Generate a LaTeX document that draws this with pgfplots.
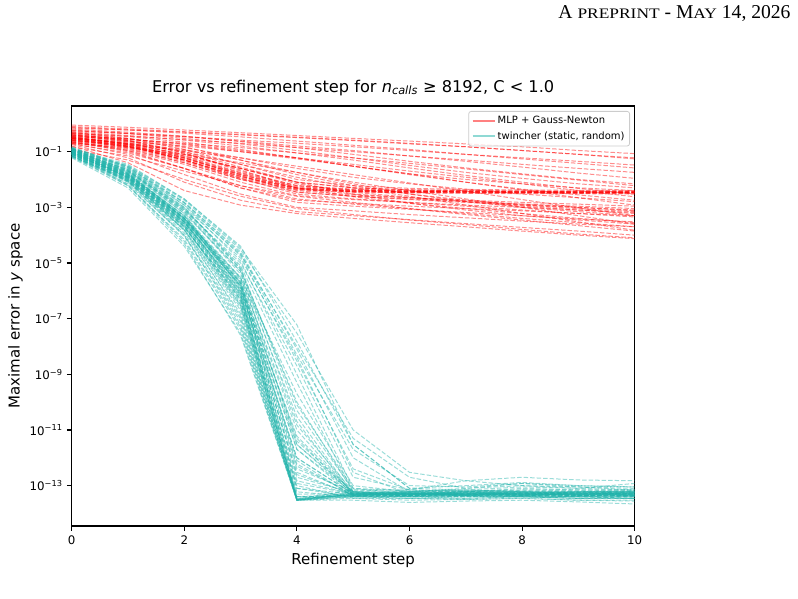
\documentclass[border=0pt]{standalone}
\usepackage{pgfplots}
\pgfplotsset{compat=1.18}
\usepackage{pgfplotstable}
\usepackage{fontspec}
\setmainfont{DejaVu Sans}
\newfontfamily\timesfont{Liberation Serif}
\newfontfamily\timessc[FakeStretch=1.2]{Liberation Serif}

\definecolor{mlpred}{RGB}{255,0,0}
\definecolor{twinteal}{RGB}{32,178,170}

% Maximal error per refinement step (columns a0..a10 = step 0..10), one run per row
\pgfplotstableread{
a0 a1 a2 a3 a4 a5 a6 a7 a8 a9 a10
9e-1 7.5e-1 6e-1 4.8e-1 3.8e-1 3e-1 2.4e-1 1.9e-1 1.5e-1 1.1e-1 8.5e-2
7e-1 6e-1 5e-1 4e-1 3.2e-1 2.5e-1 1.9e-1 1.5e-1 1.1e-1 8e-2 6e-2
5.5e-1 4.5e-1 3.5e-1 2.6e-1 2e-1 1.5e-1 1.1e-1 8e-2 6e-2 4.5e-2 3.3e-2
4.5e-1 3.6e-1 2.7e-1 2e-1 1.4e-1 1e-1 7e-2 5e-2 3.5e-2 2.5e-2 1.8e-2
6e-1 4.6e-1 3.4e-1 2.4e-1 1.6e-1 1.1e-1 7e-2 4.5e-2 2.8e-2 1.7e-2 1.1e-2
3.5e-1 2.8e-1 2e-1 1.4e-1 9e-2 6e-2 3.8e-2 2.4e-2 1.5e-2 9.5e-3 6e-3
3e-1 2.3e-1 1.6e-1 1e-1 6e-2 3.5e-2 2e-2 1.2e-2 7e-3 4e-3 2.4e-3
4e-1 2.8e-1 1.8e-1 1e-1 5.5e-2 3e-2 1.6e-2 8e-3 4.2e-3 2.2e-3 1.2e-3
2.5e-1 1.8e-1 1.1e-1 6e-2 3e-2 1.5e-2 7.5e-3 3.8e-3 1.9e-3 9.5e-4 5e-4
2e-1 1.4e-1 8e-2 4e-2 1.8e-2 8e-3 4e-3 2e-3 1e-3 5e-4 2.5e-4
1.5e-1 7e-2 2e-2 6e-3 2.5e-3 1.5e-3 9e-4 5.5e-4 3.5e-4 2.2e-4 1.4e-4
3.2e-1 2e-1 1e-1 3.5e-2 1.2e-2 5e-3 2.5e-3 1.2e-3 6e-4 3e-4 1.5e-4
1.2e-1 5e-2 1e-2 2.5e-3 9e-4 5.5e-4 3.5e-4 2.4e-4 1.6e-4 1.1e-4 8e-5
3e-1 1.6e-1 5e-2 1.2e-2 5e-3 4e-3 3.8e-3 3.7e-3 3.6e-3 3.6e-3 3.5e-3
4e-1 2.2e-1 7e-2 1.8e-2 6e-3 4.5e-3 4e-3 3.9e-3 3.8e-3 3.7e-3 3.7e-3
2.2e-1 1.3e-1 4e-2 1e-2 4.2e-3 3.6e-3 3.4e-3 3.3e-3 3.3e-3 3.2e-3 3.2e-3
3.5e-1 2e-1 8e-2 2.5e-2 8e-3 5e-3 4.3e-3 4e-3 3.9e-3 3.8e-3 3.8e-3
2.8e-1 1.5e-1 5.5e-2 1.5e-2 5e-3 3.8e-3 3.5e-3 3.4e-3 3.4e-3 3.3e-3 3.3e-3
5e-1 3e-1 1.2e-1 3.5e-2 1e-2 6e-3 4.8e-3 4.4e-3 4.2e-3 4.1e-3 4e-3
2.6e-1 1.4e-1 4.5e-2 1.1e-2 4.5e-3 3.7e-3 3.5e-3 3.5e-3 3.4e-3 3.4e-3 3.4e-3
3.8e-1 2.4e-1 9e-2 2e-2 6e-3 4.2e-3 3.7e-3 3.6e-3 3.5e-3 3.5e-3 3.5e-3
2.5e-1 1.1e-1 2.5e-2 5e-3 1.8e-3 1.4e-3 1.1e-3 9e-4 7.5e-4 6e-4 5e-4
3e-1 1.7e-1 6e-2 1.4e-2 3.5e-3 2.5e-3 1.9e-3 1.5e-3 1.2e-3 1e-3 8e-4
2e-1 8e-2 1.5e-2 3e-3 1e-3 7.5e-4 5.5e-4 4.2e-4 3.2e-4 2.5e-4 2e-4
4.2e-1 2.5e-1 9e-2 2.2e-2 5e-3 3e-3 2.2e-3 1.7e-3 1.3e-3 1e-3 7.5e-4
1.8e-1 6e-2 8e-3 1.8e-3 7e-4 5e-4 3.6e-4 2.6e-4 1.9e-4 1.4e-4 1e-4
3.3e-1 1.8e-1 5e-2 1.1e-2 3e-3 2e-3 1.5e-3 1.1e-3 8e-4 6e-4 4.5e-4
2.3e-1 1e-1 2.5e-2 5e-3 1.5e-3 1.1e-3 8.5e-4 6.5e-4 5e-4 3.8e-4 3e-4
1.6e-1 4e-2 4e-3 1.2e-3 6e-4 4e-4 2.8e-4 2e-4 1.4e-4 1e-4 7.5e-5
2.7e-1 1.5e-1 5e-2 1.3e-2 4e-3 2.8e-3 2.2e-3 1.8e-3 1.5e-3 1.3e-3 1.1e-3
6.5e-1 5e-1 3.6e-1 2.3e-1 1.4e-1 8e-2 4.5e-2 2.6e-2 1.6e-2 1e-2 7e-3
4.8e-1 3.5e-1 2.2e-1 1.2e-1 6e-2 3e-2 1.6e-2 1e-2 7e-3 5e-3 4e-3
3.6e-1 2.5e-1 1.4e-1 6e-2 2.5e-2 1.2e-2 7e-3 4.5e-3 3e-3 2.2e-3 1.6e-3
8e-1 6.5e-1 5.2e-1 4.2e-1 3.3e-1 2.6e-1 2e-1 1.5e-1 1.1e-1 8e-2 5.5e-2
2.9e-1 2e-1 1.2e-1 5e-2 1.8e-2 7e-3 3e-3 1.6e-3 1e-3 7e-4 5e-4
5.2e-1 3.8e-1 2.6e-1 1.6e-1 9e-2 5e-2 2.6e-2 1.4e-2 8e-3 4.8e-3 3e-3
5.8e-1 4.4e-1 3e-1 1.9e-1 1.1e-1 6e-2 3.2e-2 1.8e-2 1.1e-2 7e-3 5e-3
2.4e-1 1.5e-1 6e-2 1.6e-2 5e-3 2.4e-3 1.4e-3 9e-4 6e-4 4e-4 2.8e-4
3.4e-1 1.9e-1 6.5e-2 1.7e-2 5.5e-3 4.2e-3 3.8e-3 3.6e-3 3.5e-3 3.4e-3 3.4e-3
2.9e-1 1.6e-1 5e-2 1.3e-2 4.8e-3 3.9e-3 3.7e-3 3.6e-3 3.6e-3 3.5e-3 3.5e-3
4.4e-1 2.6e-1 1e-1 2.8e-2 8e-3 5e-3 4.2e-3 3.9e-3 3.7e-3 3.6e-3 3.6e-3
2.1e-1 1.1e-1 3.5e-2 8e-3 2.6e-3 1.9e-3 1.5e-3 1.2e-3 1e-3 8e-4 6.5e-4
3.1e-1 1.9e-1 8e-2 2.5e-2 7e-3 3.5e-3 2.3e-3 1.6e-3 1.1e-3 8e-4 6e-4
1.9e-1 9e-2 2.5e-2 6e-3 2e-3 1.3e-3 9e-4 6e-4 4e-4 2.8e-4 2e-4
7.5e-1 6e-1 4.6e-1 3.4e-1 2.4e-1 1.7e-1 1.2e-1 8e-2 5.5e-2 3.8e-2 2.6e-2
3.9e-1 2.9e-1 1.9e-1 1.1e-1 6e-2 3e-2 1.5e-2 8e-3 4.5e-3 2.8e-3 1.8e-3
2.6e-1 1.6e-1 7e-2 2.5e-2 8e-3 3e-3 1.4e-3 8e-4 5e-4 3.5e-4 2.5e-4
4.6e-1 3e-1 1.5e-1 5e-2 1.5e-2 6e-3 3e-3 1.8e-3 1.2e-3 9e-4 7e-4
3.3e-1 1.8e-1 6e-2 1.5e-2 4.5e-3 3.6e-3 3.3e-3 3.2e-3 3.1e-3 3.1e-3 3e-3
2.2e-1 1.2e-1 4e-2 1e-2 3.5e-3 2.5e-3 2e-3 1.6e-3 1.3e-3 1.1e-3 9e-4
}\mlpraw

\pgfplotstableread{
a0 a1 a2 a3 a4 a5 a6 a7 a8 a9 a10
1.3e-1 3.5e-2 2e-3 4e-5 1.5e-8 3e-12 8e-14 7e-14 9e-14 8e-14 7e-14
1.1e-1 3e-2 1.5e-3 2.5e-5 8e-9 1e-12 6e-14 8e-14 1.2e-13 9e-14 8e-14
1.4e-1 2.5e-2 1e-3 1.5e-5 4e-9 3e-13 5e-14 5.5e-14 6e-14 5e-14 5.5e-14
1e-1 2e-2 8e-4 1e-5 2e-9 2e-13 7e-14 1.5e-13 1e-13 8e-14 1.2e-13
9e-2 1.8e-2 6e-4 5e-6 1e-10 6e-14 5e-14 5e-14 4.5e-14 5e-14 5.5e-14
1.2e-1 2.2e-2 7e-4 4e-6 3e-11 5e-14 4.5e-14 5e-14 5e-14 4.5e-14 5e-14
8e-2 1.5e-2 5e-4 3e-6 1e-11 5e-14 6e-14 6.5e-14 6e-14 6e-14 6.5e-14
1e-1 1.6e-2 4e-4 2e-6 5e-12 4.5e-14 4e-14 4.5e-14 4e-14 3.5e-14 4e-14
1.1e-1 1.4e-2 3.5e-4 1.5e-6 2e-12 5.5e-14 5e-14 6e-14 5.5e-14 4.5e-14 4.5e-14
9e-2 1.2e-2 3e-4 1e-6 1e-12 5e-14 5.5e-14 5e-14 5e-14 5.5e-14 5e-14
1.3e-1 2e-2 6e-4 1.2e-6 4e-13 6e-14 5e-14 5.5e-14 6e-14 6e-14 5.5e-14
7e-2 1e-2 2.5e-4 8e-7 3e-13 4.5e-14 5e-14 4.5e-14 5e-14 4.5e-14 4e-14
1e-1 1.3e-2 3e-4 6e-7 1.5e-13 5e-14 4.5e-14 4.5e-14 5e-14 5e-14 5.5e-14
8e-2 1e-2 2e-4 5e-7 6e-14 4e-14 4.5e-14 4e-14 4e-14 4.5e-14 4e-14
1.2e-1 1.5e-2 3.5e-4 7e-7 3.5e-14 4.5e-14 5e-14 5e-14 4.5e-14 5e-14 4.5e-14
9e-2 1.1e-2 2e-4 4e-7 3e-14 5e-14 5.5e-14 5e-14 5.5e-14 6e-14 5.5e-14
1.1e-1 1.2e-2 2.2e-4 3e-7 3.2e-14 4e-14 4e-14 4.5e-14 4e-14 3.5e-14 3.5e-14
7e-2 8e-3 1.5e-4 2e-7 3e-14 3.5e-14 3e-14 3.2e-14 3.5e-14 3e-14 2.8e-14
1e-1 1e-2 1.6e-4 2.5e-7 4e-14 5e-14 5e-14 5.5e-14 5e-14 5e-14 5e-14
8e-2 9e-3 1.2e-4 1.5e-7 3e-14 6e-14 6e-14 7e-14 6e-14 5.5e-14 6e-14
1.2e-1 1.1e-2 1.5e-4 1.2e-7 3.3e-14 4.5e-14 5e-14 4.5e-14 5e-14 5e-14 4.5e-14
6.5e-2 7e-3 1e-4 1e-7 3e-14 3e-14 2.5e-14 2.8e-14 3e-14 2.6e-14 2.2e-14
9e-2 8e-3 9e-5 8e-8 3e-14 5e-14 4.5e-14 5e-14 5.5e-14 5e-14 5.5e-14
1e-1 9e-3 1e-4 6e-8 3.2e-14 5.5e-14 5e-14 6e-14 5e-14 4.5e-14 5e-14
7.5e-2 6e-3 7e-5 5e-8 3e-14 4e-14 4.5e-14 4e-14 4.5e-14 4e-14 3.5e-14
6e-2 5e-3 4e-5 3e-8 3e-14 4.5e-14 4e-14 4.5e-14 4e-14 4e-14 4.5e-14
8.5e-2 6.5e-3 6e-5 4e-8 3.1e-14 5e-14 5e-14 5e-14 5.5e-14 5.5e-14 5e-14
1.3e-1 1.8e-2 4e-4 3e-6 2e-10 1e-13 6e-14 5.5e-14 5e-14 6e-14 6e-14
1.5e-1 2.8e-2 1.2e-3 2e-5 1e-8 5e-12 2e-13 8e-14 1e-13 9e-14 7e-14
1.4e-1 3e-2 1.8e-3 3e-5 3e-8 1e-11 3e-13 1.5e-13 2e-13 1.6e-13 1.5e-13
1.2e-1 3.2e-2 2e-3 3.5e-5 6e-8 3e-12 8e-14 1e-13 1.3e-13 1e-13 9e-14
1e-1 2.4e-2 1.2e-3 1.2e-5 1e-9 8e-14 5e-14 6e-14 6e-14 5e-14 5e-14
9e-2 2e-2 9e-4 8e-6 5e-10 6e-14 4e-14 5e-14 4.5e-14 4e-14 4.5e-14
1.1e-1 2.2e-2 1e-3 6e-6 2e-11 4.5e-14 5e-14 4.5e-14 5e-14 5.5e-14 5e-14
8e-2 1.3e-2 4e-4 2.5e-6 4e-12 6e-14 5.5e-14 5e-14 6e-14 5.5e-14 6e-14
1e-1 1.5e-2 5e-4 1.8e-6 8e-13 4e-14 4e-14 3.5e-14 4e-14 4e-14 3.5e-14
1.2e-1 1.6e-2 3e-4 9e-7 5e-14 5e-14 6e-14 5e-14 5e-14 6e-14 6e-14
9e-2 1.2e-2 2.5e-4 5e-7 3.3e-14 7e-14 7e-14 6.5e-14 7e-14 7e-14 6.5e-14
1.3e-1 1.7e-2 4.5e-4 1e-6 2.5e-13 5e-14 5.5e-14 5e-14 5e-14 4.5e-14 5e-14
7e-2 9e-3 2e-4 3.5e-7 1e-13 3.5e-14 3.5e-14 3.2e-14 3.5e-14 3e-14 3e-14
1.1e-1 1.9e-2 7e-4 5e-6 3e-12 5e-14 5e-14 5.5e-14 5e-14 5e-14 5.5e-14
9.5e-2 1.4e-2 4e-4 2.2e-6 6e-13 4.5e-14 4.5e-14 4e-14 4.5e-14 4.5e-14 4e-14
1.25e-1 1.7e-2 5e-4 1.5e-6 2e-13 5.5e-14 6e-14 6e-14 5.5e-14 5.5e-14 6e-14
8.5e-2 1.1e-2 2.8e-4 1.1e-6 1e-12 5e-14 4.5e-14 5e-14 5e-14 4.5e-14 4.5e-14
1.05e-1 1.3e-2 3e-4 8e-7 4e-14 4.5e-14 5e-14 5e-14 5e-14 5e-14 5e-14
7.5e-2 9e-3 1.8e-4 6e-7 8e-14 4e-14 3.5e-14 4e-14 4e-14 3.5e-14 3.5e-14
1.15e-1 1.6e-2 4e-4 1.3e-6 3e-12 6e-14 5.5e-14 6e-14 6.5e-14 6e-14 6e-14
1e-1 1.2e-2 2.4e-4 7e-7 1.2e-13 5e-14 5e-14 4.5e-14 4.5e-14 5e-14 5e-14
8e-2 1e-2 2.2e-4 4.5e-7 3.5e-14 4.5e-14 4.5e-14 5e-14 4.5e-14 4e-14 4.5e-14
1.3e-1 2.3e-2 9e-4 7e-6 5e-11 7e-14 6e-14 6e-14 7e-14 6.5e-14 6e-14
1.2e-1 2.6e-2 1.4e-3 1.8e-5 3e-9 4e-13 7e-14 6e-14 8e-14 7e-14 7e-14
9e-2 1.1e-2 2.8e-4 1.6e-6 6e-12 5.5e-14 5e-14 5e-14 5.5e-14 5e-14 5e-14
1.1e-1 1.5e-2 4.2e-4 2.8e-6 1.5e-11 6e-14 5e-14 4.5e-14 5e-14 5.5e-14 5e-14
7e-2 8.5e-3 1.6e-4 3e-7 4e-14 4e-14 4e-14 4.5e-14 4.5e-14 4e-14 4e-14
1e-1 1.4e-2 3.8e-4 1.4e-6 5e-13 5e-14 5.5e-14 6e-14 5e-14 5e-14 5.5e-14
8.5e-2 1.2e-2 3.2e-4 2e-6 2e-12 4.5e-14 4.5e-14 5e-14 4.5e-14 4.5e-14 4.5e-14
1.2e-1 2.1e-2 8e-4 6e-6 8e-11 8e-14 6.5e-14 7e-14 6e-14 6e-14 6.5e-14
6.5e-2 6e-3 5e-5 2.5e-8 3e-14 4e-14 3.5e-14 3.5e-14 4e-14 3.5e-14 3.5e-14
9e-2 1.3e-2 3.5e-4 1.8e-6 8e-14 5e-14 5e-14 5e-14 5.5e-14 5e-14 5e-14
1.35e-1 2.7e-2 1.5e-3 2.2e-5 5e-9 2e-12 1e-13 9e-14 1.2e-13 1e-13 9e-14
}\twinraw

% one column per run, one row per refinement step
\pgfplotstabletranspose{\mlp}{\mlpraw}
\pgfplotstabletranspose{\twin}{\twinraw}

\begin{document}
\begin{tikzpicture}[x=1pt,y=1pt]
\useasboundingbox (0,0) rectangle (798,598);

% running header
\node[anchor=base east, inner sep=0pt] at (790.7,579)
  {\timesfont\fontsize{19.6}{22}\selectfont A {\timessc\fontsize{14.5}{16}\selectfont PREPRINT} - M{\timessc\fontsize{14.5}{16}\selectfont AY} 14, 2026};

\begin{axis}[
  at={(71.7pt,72pt)}, anchor=south west,
  scale only axis, width=563pt, height=420pt,
  ymode=log,
  xmin=0, xmax=10, ymin=3.55e-15, ymax=4.37,
  xtick={0,2,4,6,8,10}, xticklabels={0,2,4,6,8,10},
  ytick={1e-13,1e-11,1e-9,1e-7,1e-5,1e-3,1e-1},
  yticklabels={10\textsuperscript{−13},10\textsuperscript{−11},10\textsuperscript{−9},10\textsuperscript{−7},10\textsuperscript{−5},10\textsuperscript{−3},10\textsuperscript{−1}},
  tick align=outside, tick pos=left,
  major tick length=4.9pt,
  every tick/.style={black, line width=1.1pt},
  axis line style={line width=1.1pt},
  ticklabel style={font=\fontsize{11.8}{14}\selectfont},
  yticklabel style={inner sep=0pt, xshift=-4pt},
  xticklabel style={inner sep=0pt, yshift=-4.8pt},
  title={Error vs refinement step for {\itshape n}\textsubscript{\itshape calls} ≥ 8192, C < 1.0},
  title style={at={(axis description cs:0.5,1.0183)}, anchor=base, font=\fontsize{16.2}{19}\selectfont, inner sep=0pt},
  xlabel={Refinement step},
  xlabel style={at={(axis description cs:0.5,-0.0905)}, anchor=base, font=\fontsize{15}{18}\selectfont, inner sep=0pt},
  ylabel={Maximal error in {\itshape y} space},
  ylabel style={at={(axis description cs:-0.0924,0.5)}, anchor=base, font=\fontsize{15}{18}\selectfont, inner sep=0pt},
  legend image code/.code={\draw[#1] (0pt,0pt) -- (22pt,0pt);},
  legend cell align=left,
  legend style={at={(axis description cs:1,1)}, anchor=north east,
    xshift=-4.7pt, yshift=-5pt,
    draw=black!20, line width=0.8pt, fill=white, fill opacity=0.8, text opacity=1,
    rounded corners=2.5pt, inner xsep=3pt, inner ysep=2.5pt, row sep=1.6pt,
    font=\fontsize{10}{12}\selectfont,
    nodes={text height=7.5pt, text depth=2.5pt, inner ysep=2pt, inner xsep=2pt}},
  mlpline/.style={mlpred, opacity=0.45, line width=1pt, dash pattern=on 4.5pt off 2pt},
  twinline/.style={twinteal, opacity=0.45, line width=1pt, dash pattern=on 4.5pt off 2pt},
]

\pgfplotsinvokeforeach{1,...,50}{
  \addplot[mlpline, forget plot] table[x expr=\coordindex, y index=#1]{\mlp};
}
\pgfplotsinvokeforeach{1,...,60}{
  \addplot[twinline, forget plot] table[x expr=\coordindex, y index=#1]{\twin};
}

\addlegendimage{line width=2pt, color=mlpred!50}
\addlegendentry{MLP + Gauss-Newton}
\addlegendimage{line width=2pt, color=twinteal!50}
\addlegendentry{twincher (static, random)}
\end{axis}
\end{tikzpicture}
\end{document}
